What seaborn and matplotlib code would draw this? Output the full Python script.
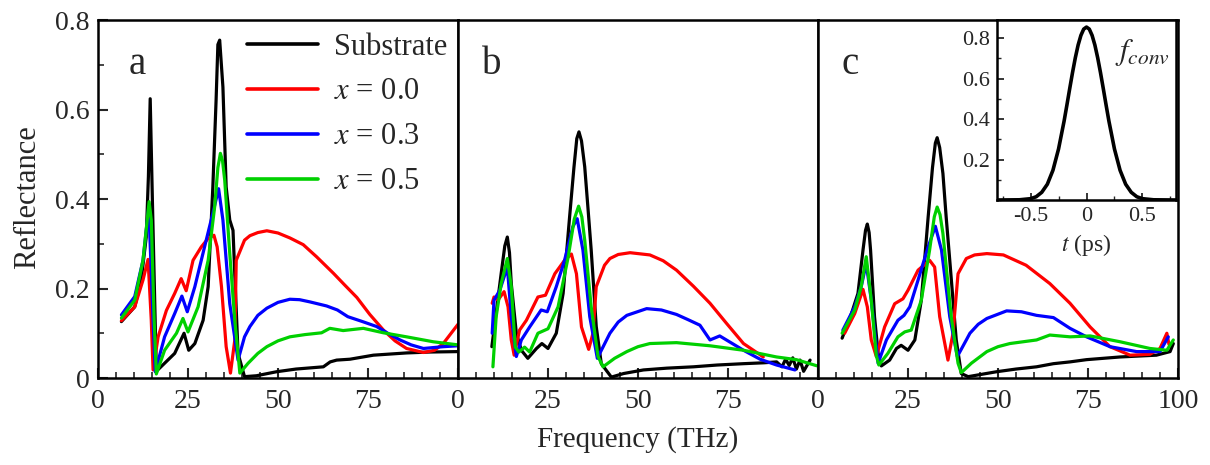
import numpy as np
import pandas as pd
import matplotlib
matplotlib.use('Agg')
import matplotlib.pyplot as plt
from matplotlib.ticker import MultipleLocator
import seaborn as sns

# ---- panel a ----
a_sub_f = [6.5, 10.2, 12.0, 13.4, 14.0, 14.5, 15.1, 16.2, 18.5, 21.3, 23.9, 25.2, 26.9, 29.2, 30.6, 31.9, 32.8, 33.3, 33.8, 34.7, 35.6,
           36.6, 37.5, 38.9, 40.7, 44, 49.6, 55, 62.6, 64.5, 66.3, 70, 76.5, 85.7, 92, 100]
a_sub_r = [0.126, 0.159, 0.219, 0.315, 0.45, 0.624, 0.40, 0.015, 0.033, 0.055, 0.100, 0.062, 0.077, 0.129, 0.204, 0.427, 0.62, 0.745, 0.755, 0.65, 0.427,
           0.353, 0.33, 0.055, 0.003, 0.005, 0.014, 0.02, 0.025, 0.036, 0.04, 0.042, 0.051, 0.056, 0.058, 0.059]
a_x0_f = [6.5, 10.2, 12.5, 13.9, 14.8, 15.3, 16.7, 19.0, 21.3, 23.1, 24.5, 26.4, 28.7, 30.6, 32.2, 33.1, 34.3, 35.6, 36.8, 38.0,
          38.4, 40.7, 42.2, 44.4, 46.9, 50, 53.3, 57, 60.7, 65.4, 68.5, 71.9, 75.5, 79.3, 82.5, 85.7, 90.4, 93.5, 95.9, 100]
a_x0_r = [0.128, 0.159, 0.219, 0.265, 0.129, 0.018, 0.092, 0.151, 0.189, 0.222, 0.195, 0.263, 0.293, 0.312, 0.319, 0.293, 0.204, 0.07, 0.011, 0.085,
          0.263, 0.308, 0.318, 0.325, 0.329, 0.324, 0.313, 0.298, 0.271, 0.234, 0.208, 0.18, 0.142, 0.107, 0.083, 0.066, 0.057, 0.062, 0.077, 0.12]
a_x3_f = [6.5, 10.2, 12.5, 14.1, 15.3, 15.9, 18.5, 21.3, 23.3, 24.8, 26.9, 29.6, 31.9, 33.5, 34.7, 36.6, 38.9, 40.7, 42.2, 44.4,
          46.9, 50, 53.3, 56, 58.9, 63.5, 66.5, 69.4, 73.5, 77.4, 80.5, 83.9, 87, 90.4, 95.9, 100]
a_x3_r = [0.141, 0.182, 0.263, 0.382, 0.129, 0.014, 0.092, 0.144, 0.183, 0.148, 0.204, 0.293, 0.368, 0.423, 0.353, 0.166, 0.04, 0.092, 0.115, 0.14,
          0.156, 0.169, 0.176, 0.175, 0.17, 0.161, 0.152, 0.137, 0.126, 0.115, 0.1, 0.085, 0.074, 0.066, 0.07, 0.072]
a_x5_f = [6.5, 10.2, 12.5, 14.2, 14.8, 15.6, 16.2, 18.5, 21.8, 23.6, 25.0, 27.8, 30.6, 32.4, 33.3, 34.0, 34.6, 35.2, 36.6, 38.0, 39.4, 41.7,
          44.4, 46.9, 50, 53.3, 57.5, 62.1, 64.4, 68.1, 73.7, 79.3, 85.7, 93.1, 100]
a_x5_r = [0.134, 0.174, 0.263, 0.394, 0.353, 0.129, 0.009, 0.062, 0.1, 0.133, 0.103, 0.159, 0.263, 0.382, 0.47, 0.502, 0.485, 0.442, 0.278, 0.129, 0.011, 0.033,
          0.055, 0.07, 0.083, 0.092, 0.097, 0.101, 0.111, 0.106, 0.111, 0.101, 0.092, 0.081, 0.074]

# ---- panel b ----
b_sub_f = [9.4, 12.0, 13.0, 13.7, 14.3, 14.8, 16.2, 17.6, 19.4, 21.8, 23.3, 25.0, 27.3, 29.2, 31.0, 32.2, 33.0, 33.6, 34.3, 35.2,
           36.1, 37.0, 38.4, 39.8, 42.6, 46, 51.5, 58, 65.4, 72, 79.3, 85, 88.5, 90, 91, 92, 93, 94, 95, 96, 97.8]
b_sub_r = [0.07, 0.234, 0.295, 0.315, 0.28, 0.211, 0.1, 0.062, 0.044, 0.066, 0.077, 0.066, 0.1, 0.189, 0.36, 0.47, 0.535, 0.55, 0.53, 0.472,
           0.38, 0.286, 0.115, 0.032, 0.002, 0.01, 0.018, 0.022, 0.025, 0.029, 0.032, 0.034, 0.036, 0.025, 0.042, 0.028, 0.045, 0.02, 0.04, 0.015, 0.04]
b_x0_f = [9.5, 10.0, 11.1, 12.8, 13.9, 14.8, 15.6, 17.1, 19.0, 22.2, 24.3, 26.9, 29.6, 31.5, 32.9, 34.3, 36.3, 37.5, 38.4, 40.7,
          42.2, 44.5, 47.8, 53.3, 57, 60.7, 65.4, 70, 74.6, 79.3, 84.8]
b_x0_r = [0.167, 0.181, 0.174, 0.193, 0.159, 0.085, 0.051, 0.107, 0.129, 0.181, 0.185, 0.233, 0.263, 0.277, 0.233, 0.114, 0.064, 0.1, 0.204, 0.252,
          0.267, 0.276, 0.28, 0.275, 0.262, 0.241, 0.205, 0.167, 0.122, 0.077, 0.047]
b_x3_f = [9.5, 10.0, 11.6, 13.7, 14.8, 16.2, 17.6, 19.9, 23.1, 24.8, 27.3, 29.6, 31.9, 33.1, 34.7, 36.6, 38.7, 42.2, 44.5, 46.9, 52.4,
          56.5, 60.7, 64, 67.2, 70, 72.7, 76, 79.3, 83.9, 88.5, 93.6]
b_x3_r = [0.1, 0.174, 0.196, 0.248, 0.137, 0.048, 0.085, 0.114, 0.152, 0.148, 0.204, 0.263, 0.338, 0.356, 0.286, 0.137, 0.044, 0.1, 0.125, 0.14, 0.155,
          0.152, 0.142, 0.13, 0.118, 0.085, 0.094, 0.078, 0.062, 0.042, 0.029, 0.018]
b_x5_f = [9.7, 10.6, 12.0, 13.7, 14.8, 15.9, 16.9, 18.5, 19.9, 22.2, 25.0, 27.8, 30.6, 32.3, 33.5, 34.4, 35.2, 37.0, 38.9, 40.3, 43.5, 46.9,
          50, 53.3, 60.7, 70, 79.3, 88.5, 94, 99.8]
b_x5_r = [0.025, 0.137, 0.211, 0.267, 0.204, 0.069, 0.058, 0.069, 0.058, 0.1, 0.11, 0.159, 0.27, 0.355, 0.384, 0.36, 0.308, 0.159, 0.048, 0.025, 0.044, 0.059,
          0.07, 0.077, 0.079, 0.072, 0.062, 0.047, 0.041, 0.027]

# ---- panel c ----
c_sub_f = [6.7, 9.3, 11.1, 12.5, 13.2, 13.7, 14.2, 14.6, 15.7, 16.7, 17.6, 19.9, 21.8, 23.1, 25.0, 26.9, 28.7, 30.6, 31.8, 32.6, 33.1, 33.8,
           34.7, 35.6, 36.6, 38.4, 39.8, 41.7, 49.6, 55, 60.7, 65.4, 70, 74.6, 83.9, 94, 97.8, 98.7]
c_sub_r = [0.089, 0.144, 0.189, 0.286, 0.33, 0.344, 0.325, 0.286, 0.137, 0.055, 0.027, 0.04, 0.066, 0.073, 0.062, 0.085, 0.174, 0.36, 0.47, 0.525, 0.537, 0.515,
           0.457, 0.36, 0.263, 0.085, 0.01, 0.003, 0.014, 0.02, 0.025, 0.032, 0.036, 0.041, 0.047, 0.051, 0.059, 0.077]
c_x0_f = [7.4, 10.2, 12.5, 13.7, 14.8, 16.2, 18.5, 21.3, 23.6, 25.0, 27.8, 31.0, 32.4, 33.8, 36.1, 37.5, 38.9, 41.2, 43.5, 46.9, 51.5,
          57.8, 64.4, 70, 75.6, 81.1, 86.7, 92.2, 95, 96.9, 97.5]
c_x0_r = [0.1, 0.144, 0.198, 0.159, 0.085, 0.048, 0.114, 0.166, 0.177, 0.196, 0.241, 0.263, 0.248, 0.137, 0.04, 0.1, 0.233, 0.267, 0.275, 0.278, 0.275,
          0.252, 0.211, 0.167, 0.114, 0.07, 0.051, 0.053, 0.066, 0.1, 0.075]
c_x3_f = [6.9, 10.2, 12.0, 13.4, 14.8, 16.7, 19.0, 22.2, 23.9, 25.5, 27.8, 30.6, 32.6, 34.3, 36.6, 38.7, 41.2, 42.2, 44.5, 46.9, 52.4,
          56.5, 60.7, 65.4, 70, 74.6, 81.1, 88.5, 95, 97.3]
c_x3_r = [0.107, 0.159, 0.204, 0.256, 0.174, 0.033, 0.085, 0.129, 0.14, 0.159, 0.219, 0.293, 0.339, 0.286, 0.137, 0.048, 0.085, 0.1, 0.12, 0.133, 0.15,
          0.148, 0.14, 0.135, 0.111, 0.092, 0.07, 0.059, 0.059, 0.092]
c_x5_f = [6.7, 10.2, 12.0, 13.4, 14.8, 16.2, 16.9, 19.4, 22.2, 24.1, 25.9, 28.7, 31.0, 32.3, 33.1, 33.9, 34.7, 37.0, 38.9, 39.8, 42.6, 46.9,
          50, 53.3, 60.7, 64.4, 70, 75.6, 83.9, 92.2, 96.9, 98.7]
c_x5_r = [0.1, 0.152, 0.204, 0.271, 0.174, 0.05, 0.029, 0.055, 0.092, 0.103, 0.107, 0.174, 0.286, 0.36, 0.382, 0.365, 0.323, 0.137, 0.033, 0.012, 0.033, 0.059,
          0.07, 0.077, 0.085, 0.096, 0.092, 0.094, 0.081, 0.066, 0.062, 0.085]

# ---- inset: convolution function ----
t_ps = [-0.8, -0.6, -0.5, -0.45, -0.4, -0.35, -0.3, -0.25, -0.2, -0.175, -0.15, -0.125, -0.1, -0.075, -0.05, -0.025, 0.0,
        0.025, 0.05, 0.075, 0.1, 0.125, 0.15, 0.175, 0.2, 0.25, 0.3, 0.35, 0.4, 0.45, 0.5, 0.6, 0.8]
f_conv = [0.0, 0.001, 0.0065, 0.016, 0.038, 0.078, 0.147, 0.252, 0.391, 0.47, 0.551, 0.63, 0.703, 0.766, 0.814, 0.845, 0.855,
          0.845, 0.814, 0.766, 0.703, 0.63, 0.551, 0.47, 0.391, 0.252, 0.147, 0.078, 0.038, 0.016, 0.0065, 0.001, 0.0]

samples = ['Substrate', 'x = 0.0', 'x = 0.3', 'x = 0.5']
legend_labels = ['Substrate', '$x$ = 0.0', '$x$ = 0.3', '$x$ = 0.5']
colors = {'Substrate': '#000000', 'x = 0.0': '#ff0000', 'x = 0.3': '#0000ff', 'x = 0.5': '#00d000'}
panels = ['a', 'b', 'c']

series = {
    'a': [(a_sub_f, a_sub_r), (a_x0_f, a_x0_r), (a_x3_f, a_x3_r), (a_x5_f, a_x5_r)],
    'b': [(b_sub_f, b_sub_r), (b_x0_f, b_x0_r), (b_x3_f, b_x3_r), (b_x5_f, b_x5_r)],
    'c': [(c_sub_f, c_sub_r), (c_x0_f, c_x0_r), (c_x3_f, c_x3_r), (c_x5_f, c_x5_r)],
}

rows = []
for p in panels:
    for s, (f, r) in zip(samples, series[p]):
        for fi, ri in zip(f, r):
            rows.append((p, s, fi, ri))
df = pd.DataFrame(rows, columns=['panel', 'sample', 'freq', 'refl'])

sns.set_theme(style='ticks')
plt.rcParams['font.family'] = ['Liberation Serif', 'DejaVu Serif']
plt.rcParams['mathtext.fontset'] = 'stix'

fig = plt.figure(figsize=(12.1, 4.65), dpi=100)
W, H = 1210, 465
left0, top0, bot0, pw = 98, 20, 378, 360
axes = []
for i in range(3):
    ax = fig.add_axes([(left0 + i * pw) / W, 1 - bot0 / H, pw / W, (bot0 - top0) / H])
    axes.append(ax)

for i, (ax, p) in enumerate(zip(axes, panels)):
    sub = df[df['panel'] == p]
    sns.lineplot(data=sub, x='freq', y='refl', hue='sample', hue_order=samples, palette=colors,
                 sort=False, estimator=None, lw=2.3, legend=False, ax=ax)
    ax.set_xlim(0, 100)
    ax.set_ylim(0, 0.8)
    ax.set_xlabel('')
    ax.set_ylabel('')
    for sp in ax.spines.values():
        sp.set_linewidth(1.8)
        sp.set_color('black')
    ax.set_xticks([0, 25, 50, 75, 100])
    if i < 2:
        ax.set_xticklabels(['0', '25', '50', '75', ''])
    else:
        ax.set_xticklabels(['0', '25', '50', '75', '100'])
    ax.xaxis.set_minor_locator(MultipleLocator(5))
    ax.tick_params(axis='x', which='both', direction='in', top=False, bottom=True, labelsize=20, pad=8)
    ax.tick_params(axis='x', which='major', length=7, width=1.5)
    ax.tick_params(axis='x', which='minor', length=4, width=1.2)
    if i == 0:
        ax.set_yticks([0, 0.2, 0.4, 0.6, 0.8])
        ax.set_yticklabels(['0', '0.2', '0.4', '0.6', '0.8'])
        ax.yaxis.set_minor_locator(MultipleLocator(0.1))
        ax.tick_params(axis='y', which='both', direction='in', labelsize=20, pad=6)
        ax.tick_params(axis='y', which='major', length=7, width=1.5)
        ax.tick_params(axis='y', which='minor', length=4, width=1.2)
    else:
        ax.set_yticks([])
        ax.tick_params(axis='y', which='both', left=False, labelleft=False)
    ax.text([11, 9.4, 8.9][i], 0.7, p, fontsize=28, ha='center', va='center')

leg = axes[0].legend(axes[0].lines[:4], legend_labels, loc='upper left', bbox_to_anchor=(0.415, 0.965),
                     frameon=False, fontsize=22, handlelength=2.3, labelspacing=0.52, handletextpad=0.55,
                     borderpad=0.0, borderaxespad=0.0)
for h in leg.get_lines():
    h.set_linewidth(2.6)

fig.text(638 / W, 1 - 440 / H, 'Frequency (THz)', ha='center', va='center', fontsize=21)
fig.text(28 / W, 1 - 197 / H, 'Reflectance', ha='center', va='center', rotation=90, fontsize=22)

# inset
ins = fig.add_axes([997 / W, 1 - 200 / H, 179 / W, 180 / H])
sns.lineplot(x=t_ps, y=f_conv, color='black', lw=2.6, sort=False, estimator=None, ax=ins)
ins.set_xlim(-0.8, 0.8)
ins.set_ylim(0, 0.89)
ins.set_xticks([-0.5, 0, 0.5])
ins.set_xticklabels(['-0.5', '0', '0.5'])
ins.set_yticks([0.2, 0.4, 0.6, 0.8])
ins.set_yticklabels(['0.2', '0.4', '0.6', '0.8'])
ins.xaxis.set_minor_locator(MultipleLocator(0.25))
ins.yaxis.set_minor_locator(MultipleLocator(0.1))
ins.tick_params(which='both', direction='in', labelsize=16, pad=5)
ins.tick_params(which='major', length=5, width=1.3)
ins.tick_params(which='minor', length=3, width=1.0)
for sp in ins.spines.values():
    sp.set_linewidth(1.8)
    sp.set_color('black')
ins.set_xlabel('$t$ (ps)', fontsize=17, labelpad=4)
ins.set_ylabel('')
ins.text(0.5, 0.73, '$f_{conv}$', fontsize=22, ha='center', va='center')

fig.savefig('out.png', dpi=100)
